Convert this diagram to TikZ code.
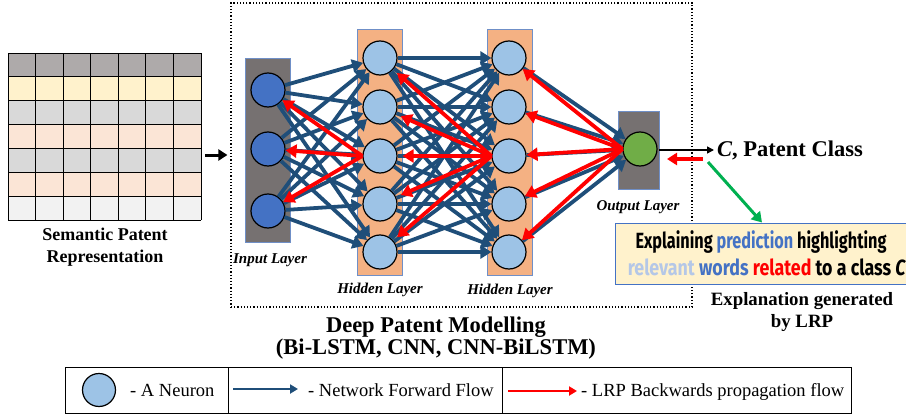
\documentclass[tikz,border=0pt]{standalone}
\usepackage{fontspec}
\setmainfont{Liberation Serif}
\newfontfamily\condsans{Fira Sans}
\usepackage{graphicx}
\usetikzlibrary{arrows.meta}
\definecolor{rowA}{HTML}{AEAAAA}
\definecolor{rowB}{HTML}{FFF2CC}
\definecolor{rowC}{HTML}{D9D9D9}
\definecolor{rowD}{HTML}{FBE5D6}
\definecolor{rowE}{HTML}{F2F2F2}
\definecolor{fblue}{HTML}{1F4E79}
\definecolor{lred}{HTML}{FF0000}
\definecolor{nlight}{HTML}{9DC3E6}
\definecolor{ndark}{HTML}{4472C4}
\definecolor{ngreen}{HTML}{70AD47}
\definecolor{graybox}{HTML}{767171}
\definecolor{peach}{HTML}{F4B183}
\definecolor{boxedge}{HTML}{6F8FC7}
\definecolor{explfill}{HTML}{FFF2CC}
\definecolor{expledge}{HTML}{4472C4}
\definecolor{pblue}{HTML}{4472C4}
\definecolor{plight}{HTML}{B4C7E7}
\definecolor{egreen}{HTML}{00B050}
\begin{document}
\begin{tikzpicture}[x=1pt,y=-1pt,
  neuron/.style={circle, draw=black, line width=1.2pt, minimum size=34pt, inner sep=0pt, fill=nlight},
  layerbox/.style={draw=boxedge, line width=0.8pt, inner sep=0pt},
  fwd/.style={draw=fblue, line width=3.8pt, -{Triangle[length=11pt,width=13pt]}},
  lrp/.style={draw=lred, line width=3.8pt, -{Triangle[length=11pt,width=13pt]}},
  gridline/.style={draw=black, line width=0.8pt},
  lbl/.style={font=\bfseries\itshape\fontsize{15}{18}\selectfont, anchor=base, inner sep=0pt},
  btxt/.style={font=\bfseries\fontsize{18}{22}\selectfont, anchor=base, inner sep=0pt},
  ltxt/.style={font=\fontsize{18.5}{22}\selectfont, anchor=base, inner sep=0pt},
  etxt/.style={font=\condsans\bfseries\fontsize{22}{26}\selectfont, anchor=base, inner sep=0pt}
]
\useasboundingbox (0,0) rectangle (906,415);

% semantic representation grid
\foreach \c [count=\i from 0] in {rowA,rowB,rowC,rowD,rowC,rowD,rowE} {
  \fill[\c] (8,53+\i*23.857) rectangle (201,76.857+\i*23.857);
}
\foreach \i in {0,...,7} {
  \draw[gridline] (8+\i*27.571,53) -- (8+\i*27.571,220);
  \draw[gridline] (8,53+\i*23.857) -- (201,53+\i*23.857);
}
\node[inner sep=0pt, minimum width=193pt, minimum height=167pt] (grid) at (104.5,136.5) {};
\node[btxt] (sem1) at (105,240) {Semantic Patent};
\node[btxt] (sem2) at (105,262) {Representation};

% dotted model box
\node[draw=black, dotted, line width=1.2pt, minimum width=461pt, minimum height=304pt, inner sep=0pt] (dpm) at (461.5,155) {};
\coordinate (gArr) at (205,155);
\draw[line width=3pt, -{Triangle[length=9pt,width=11pt]}, shorten >=3pt] (gArr) -- (gArr -| dpm.west);

% layer boxes
\node[layerbox, fill=graybox, minimum width=45pt, minimum height=184pt] (inR) at (267.5,150) {};
\node[layerbox, fill=peach, minimum width=45pt, minimum height=246pt] (haR) at (379.5,152) {};
\node[layerbox, fill=peach, minimum width=45pt, minimum height=246pt] (hbR) at (509.5,152) {};
\node[layerbox, fill=graybox, minimum width=41pt, minimum height=78pt] (outR) at (638.5,150) {};

% neurons
\node[neuron, fill=ndark] (in1) at (268,90) {};
\node[neuron, fill=ndark] (in2) at (268,149) {};
\node[neuron, fill=ndark] (in3) at (268,211) {};
\foreach \j/\y in {1/58,2/107,3/156,4/204,5/252} {
  \node[neuron] (ha\j) at (380,\y) {};
  \node[neuron] (hb\j) at (509,\y) {};
}
\node[neuron, fill=ngreen] (out) at (640,149) {};

% forward flow
\foreach \i in {1,2,3} \foreach \j in {1,...,5} \draw[fwd] (in\i) -- (ha\j);
\foreach \i in {1,...,5} \foreach \j in {1,...,5} \draw[fwd] (ha\i) -- (hb\j);
\foreach \i in {1,...,5} \draw[fwd] (hb\i) -- (out);

% LRP backward flow
\foreach \i in {1,2,3} \draw[lrp] (ha3.west) -- (in\i);
\foreach \i in {1,...,5} \draw[lrp, shorten >=5pt] (hb3.west) -- (ha\i);
\foreach \i in {1,...,5} \draw[lrp] (out.west) -- (hb\i);

% layer labels
\node[lbl] (linp) at (270,263) {Input Layer};
\node[lbl] (lha) at (380,293) {Hidden Layer};
\node[lbl] (lhb) at (510,294) {Hidden Layer};
\node[lbl] (lout) at (638,210) {Output Layer};

% output class
\node[font=\bfseries\fontsize{22.5}{26}\selectfont, anchor=west, inner sep=0pt] (cls) at (717,150) {\textit{C}, Patent Class};
\draw[line width=1.5pt, -{Triangle[length=7pt,width=7pt]}] (outR.east) -- ([xshift=-3pt]cls.west);
\coordinate (rA) at (703,159);
\coordinate (rB) at (667,159);
\draw[lrp, -{Triangle[length=10pt,width=12pt]}] (rA) -- (rB);

% explanation box
\node[draw=expledge, fill=explfill, line width=1pt, minimum width=293pt, minimum height=61pt, inner sep=0pt] (expl) at (761.5,253.5) {};
\coordinate (gA) at (708,162);
\draw[draw=egreen, line width=3pt, -{Triangle[length=10pt,width=12pt]}] (gA) -- (expl.north -| 762,0);
\node[etxt] (e1) at (761,248) {\scalebox{0.74}[1]{Explaining \textcolor{pblue}{prediction} highlighting}};
\node[etxt] (e2) at (767,275) {\scalebox{0.81}[1]{\textcolor{plight}{relevant} \textcolor{pblue}{words} \textcolor{lred}{related} to a class \textit{C}}};
\node[btxt, font=\bfseries\fontsize{18.8}{22}\selectfont] (ex1) at (802,305) {Explanation generated};
\node[btxt, font=\bfseries\fontsize{18.8}{22}\selectfont] (ex2) at (802,327) {by LRP};

% model title
\node[btxt, font=\bfseries\fontsize{22.5}{26}\selectfont] (t1) at (436,332) {Deep Patent Modelling};
\node[btxt, font=\bfseries\fontsize{22.5}{26}\selectfont] (t2) at (436,354) {(Bi-LSTM, CNN, CNN-BiLSTM)};

% legend
\node[draw=black, line width=0.8pt, minimum width=786pt, minimum height=46pt, inner sep=0pt] (leg) at (458,390) {};
\draw[line width=0.8pt] (228,367) -- (228,413);
\draw[line width=0.8pt] (502,367) -- (502,413);
\node[neuron, minimum size=33pt] (legn) at (99,390) {};
\node[ltxt, anchor=base west] (legt1) at (130,396) {- A Neuron};
\coordinate (lbA) at (233,389);
\coordinate (lbB) at (298,389);
\draw[draw=fblue, line width=2.5pt, -{Triangle[length=8pt,width=9pt]}] (lbA) -- (lbB);
\node[ltxt, anchor=base west] (legt2) at (308,396) {- Network Forward Flow};
\coordinate (lrA) at (508,391);
\coordinate (lrB) at (577,391);
\draw[draw=lred, line width=2.5pt, -{Triangle[length=8pt,width=9pt]}] (lrA) -- (lrB);
\node[ltxt, anchor=base west] (legt3) at (581,396) {- LRP Backwards propagation flow};
\end{tikzpicture}
\end{document}
